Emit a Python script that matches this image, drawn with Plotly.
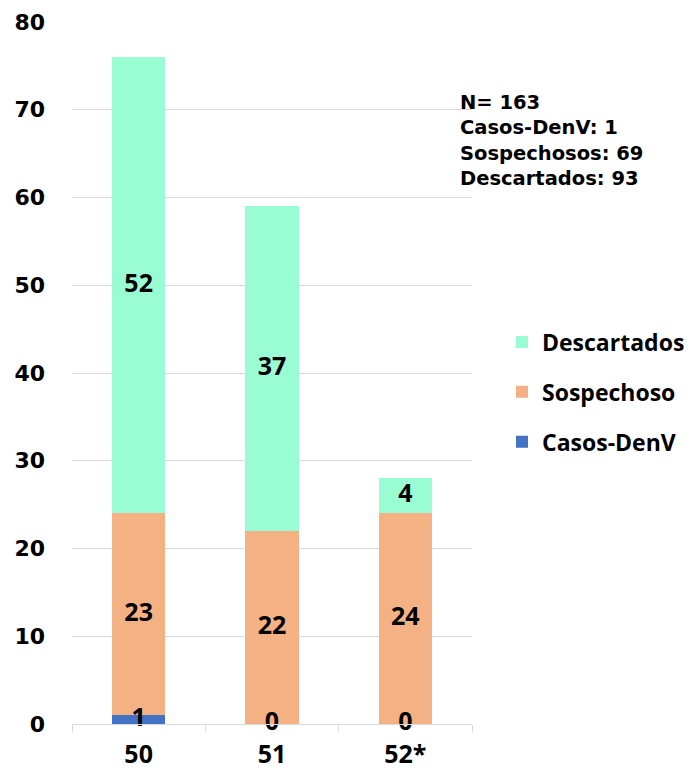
import plotly.graph_objects as go

categories = ["50", "51", "52*"]
casos_denv = [1, 0, 0]
sospechoso = [23, 22, 24]
descartados = [52, 37, 4]
y_ticks = [0, 10, 20, 30, 40, 50, 60, 70, 80]
summary_lines = ["N= 163", "Casos-DenV: 1", "Sospechosos: 69", "Descartados: 93"]

label_font = "Open Sans, Liberation Sans, sans-serif"
tick_font = "DejaVu Sans, sans-serif"

series = [
    ("Casos-DenV", casos_denv, "#4472C4", 3),
    ("Sospechoso", sospechoso, "#F4B183", 2),
    ("Descartados", descartados, "#9AFCD3", 1),
]

fig = go.Figure()
base = [0] * len(categories)
for name, vals, color, rank in series:
    fig.add_trace(go.Bar(
        x=categories, y=vals, name=name, marker=dict(color=color, line=dict(width=0)),
        legendgroup=name, legendrank=rank,
    ))
    mids = [b + v / 2 for b, v in zip(base, vals)]
    fig.add_trace(go.Scatter(
        x=categories, y=mids, mode="text", text=[str(v) for v in vals],
        textfont=dict(family=label_font, size=25, color="black", weight="bold"),
        showlegend=False, hoverinfo="skip", cliponaxis=False, legendgroup=name,
    ))
    base = [b + v for b, v in zip(base, vals)]

fig.update_layout(
    barmode="stack",
    bargap=0.6,
    width=684, height=767,
    margin=dict(l=64, r=220, t=14, b=51, autoexpand=False),
    plot_bgcolor="white", paper_bgcolor="white",
    showlegend=True,
    legend=dict(
        x=1.075, y=0.473, xanchor="left", yanchor="middle",
        traceorder="grouped", tracegroupgap=17,
        font=dict(family=label_font, size=23, color="black", weight="bold"),
        itemwidth=30,
    ),
    annotations=[dict(
        x=0.965, y=0.905, xref="paper", yref="paper", xanchor="left", yanchor="top",
        align="left", showarrow=False,
        text="<br>".join(summary_lines),
        font=dict(family=tick_font, size=19.5, color="black", weight="bold"),
    )],
)
fig.update_xaxes(
    type="category", tickson="boundaries", showline=True, linecolor="#D9D9D9", linewidth=1,
    ticks="outside", ticklen=7, tickcolor="#D9D9D9", showgrid=False, automargin=False,
    tickfont=dict(family=label_font, size=25, color="black", weight="bold"),
    ticklabelstandoff=8,
)
fig.update_yaxes(
    range=[0, 80], tickvals=y_ticks, showgrid=True, gridcolor="#D9D9D9", gridwidth=1,
    zeroline=False, showline=False, automargin=False,
    tickfont=dict(family=tick_font, size=22, color="black", weight="bold"),
    ticklabelstandoff=26,
)

fig.write_html("out.html")
